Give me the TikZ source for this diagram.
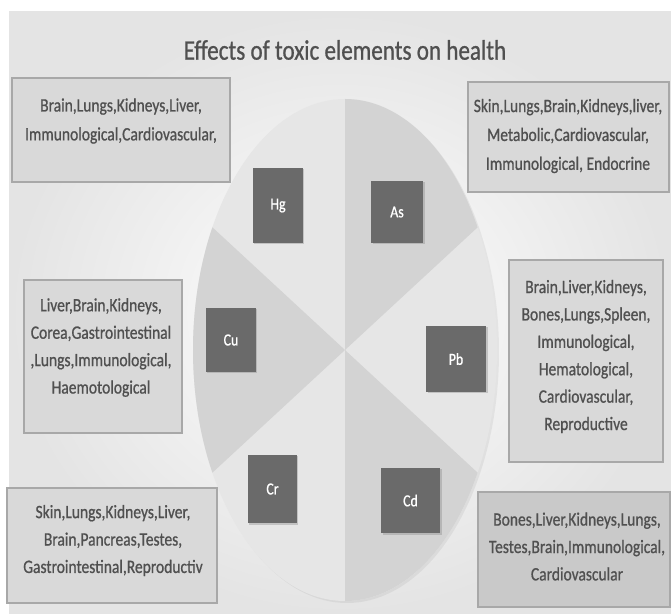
\documentclass[tikz,border=0pt]{standalone}
\usepackage{fontspec}
\setmainfont{Carlito}[FakeStretch=0.82]
\newfontfamily\heavyfont{Carlito}[FakeStretch=0.82, FakeBold=0.8]
\usetikzlibrary{shadows}
\definecolor{panelc}{HTML}{E4E4E4}
\definecolor{litesec}{HTML}{E6E6E6}
\definecolor{darksec}{HTML}{D3D3D3}
\definecolor{boxfill}{HTML}{D9D9D9}
\definecolor{boxfilldark}{HTML}{C9C9C9}
\definecolor{boxline}{HTML}{A8A8A8}
\definecolor{elfill}{HTML}{6A6A6A}
\definecolor{txt}{HTML}{505050}
\tikzset{
  elbox/.style={fill=elfill, text=white, inner sep=0pt,
    font=\heavyfont\fontsize{17}{20}\selectfont,
    drop shadow={opacity=0.35, shadow xshift=1.5pt, shadow yshift=-1.5pt}},
  tbox/.style={fill=boxfill, draw=boxline, line width=1.3bp, inner sep=0pt},
  ttext/.style={text=txt, align=center, inner sep=0pt,
    font=\heavyfont\fontsize{19}{27.5}\selectfont},
  ttexttop/.style={ttext, font=\heavyfont\fontsize{19}{29}\selectfont},
}
\begin{document}
\begin{tikzpicture}[x=1bp,y=-1bp]
\useasboundingbox (0,0) rectangle (671,614);
\fill[white] (0,0) rectangle (671,614);
\shade[inner color=white, outer color=panelc] (9,12) rectangle (671,614);
% pie
\fill[litesec, drop shadow={opacity=0.12, shadow xshift=2pt, shadow yshift=-2pt}] (345,350) ellipse [x radius=152, y radius=251];
\fill[darksec] (345,350) -- +(-90:152 and 251) arc[start angle=-90, end angle=-29.26, x radius=152, y radius=251] -- cycle;
\fill[darksec] (345,350) -- +(29.26:152 and 251) arc[start angle=29.26, end angle=90, x radius=152, y radius=251] -- cycle;
\fill[darksec] (345,350) -- +(150.74:152 and 251) arc[start angle=150.74, end angle=209.26, x radius=152, y radius=251] -- cycle;
% title
\node[text=txt, inner sep=0pt, font=\heavyfont\fontsize{28.3}{32}\selectfont] (title) at (345,50) {Effects of toxic elements on health};
% element boxes
\node[elbox, minimum width=50bp, minimum height=75bp] (hg) at (278,205.5) {Hg};
\node[elbox, minimum width=52bp, minimum height=62bp] (as) at (397,212) {As};
\node[elbox, minimum width=50bp, minimum height=64bp] (cu) at (231,340) {Cu};
\node[elbox, minimum width=60bp, minimum height=66bp] (pb) at (456,359) {Pb};
\node[elbox, minimum width=49bp, minimum height=68bp] (cr) at (272.5,489) {Cr};
\node[elbox, minimum width=59bp, minimum height=65bp] (cd) at (410.5,500.5) {Cd};
% text boxes
\node[tbox, minimum width=218bp, minimum height=104bp] (hgbox) at (121,130) {};
\node[ttexttop] (hgtext) at (121,121) {Brain,Lungs,Kidneys,Liver,\\Immunological,Cardiovascular,};
\node[tbox, minimum width=201bp, minimum height=110bp] (asbox) at (568.5,137) {};
\node[ttexttop] (astext) at (568,136) {Skin,Lungs,Brain,Kidneys,liver,\\Metabolic,Cardiovascular,\\Immunological, Endocrine};
\node[tbox, minimum width=158bp, minimum height=153bp] (cubox) at (103,356.5) {};
\node[ttext] (cutext) at (101,347.5) {Liver,Brain,Kidneys,\\Corea,Gastrointestinal\\,Lungs,Immunological,\\Haemotological};
\node[tbox, minimum width=154bp, minimum height=202bp] (pbbox) at (586,361) {};
\node[ttext] (pbtext) at (586,356.5) {Brain,Liver,Kidneys,\\Bones,Lungs,Spleen,\\Immunological,\\Hematological,\\Cardiovascular,\\Reproductive};
\node[tbox, minimum width=210bp, minimum height=115bp] (crbox) at (112,545.5) {};
\node[ttext] (crtext) at (113,540.5) {Skin,Lungs,Kidneys,Liver,\\Brain,Pancreas,Testes,\\Gastrointestinal,Reproductiv};
\node[tbox, fill=boxfilldark, minimum width=192bp, minimum height=115bp] (cdbox) at (574,549.5) {};
\node[ttext] (cdtext) at (577,546.5) {Bones,Liver,Kidneys,Lungs,\\Testes,Brain,Immunological,\\Cardiovascular};
\end{tikzpicture}
\end{document}
